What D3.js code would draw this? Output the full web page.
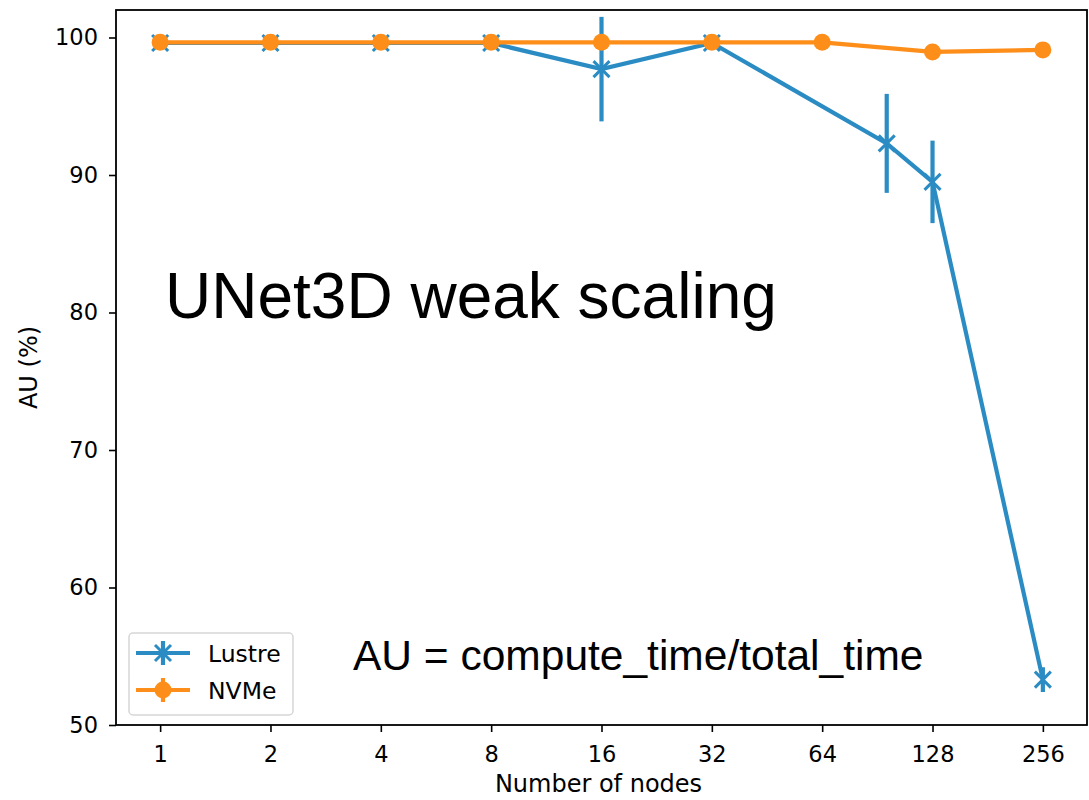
<!DOCTYPE html>
<html>
<head>
<meta charset="utf-8">
<script src="https://cdn.jsdelivr.net/npm/d3@7"></script>
<style>
  body { margin: 0; background: #fff; }
  .tick text { font-family: "DejaVu Sans", sans-serif; font-size: 22.5px; fill: #000; }
  .axis-title { font-family: "DejaVu Sans", sans-serif; font-size: 24px; }
  .note { font-family: "Liberation Sans", Arial, sans-serif; fill: #000; }
</style>
</head>
<body>
<script>
// data
var nodeTicks = [1, 2, 4, 8, 16, 32, 64, 128, 256];
var yTicks = [50, 60, 70, 80, 90, 100];

var lustreNodes = [1, 2, 4, 8, 16, 32, 96, 128, 256];
var lustreAU    = [99.6, 99.6, 99.6, 99.6, 97.7, 99.6, 92.3, 89.5, 53.3];
var lustreErr   = [0.1, 0.1, 0.1, 0.1, 3.8, 0.1, 3.6, 3.0, 0.9];

var nvmeNodes = [1, 2, 4, 8, 16, 32, 64, 128, 256];
var nvmeAU    = [99.65, 99.65, 99.65, 99.65, 99.65, 99.65, 99.65, 98.95, 99.1];
var nvmeErr   = [0.05, 0.05, 0.05, 0.05, 0.05, 0.05, 0.05, 0.1, 0.1];

var blue = '#2b8cc4', orange = '#fe8e1a';

var width = 1089, height = 800;
var margin = {top: 10, right: 2, bottom: 75, left: 116};
var drawWidth = width - margin.left - margin.right;
var drawHeight = height - margin.top - margin.bottom;

var svg = d3.select('body').append('svg')
    .attr('width', width)
    .attr('height', height);

var g = svg.append('g')
    .attr('transform', 'translate(' + margin.left + ',' + margin.top + ')');

// log2 x axis with matplotlib-like 5% margins
var xScale = d3.scaleLog().base(2)
    .domain([Math.pow(2, -0.4), Math.pow(2, 8.4)])
    .range([0, drawWidth]);
var yScale = d3.scaleLinear()
    .domain([50, 102])
    .range([drawHeight, 0]);

var xAxis = d3.axisBottom(xScale).tickValues(nodeTicks).tickFormat(d3.format('d')).tickSize(7).tickPadding(14);
var yAxis = d3.axisLeft(yScale).tickValues(yTicks).tickSize(7).tickPadding(11);

g.append('g').attr('transform', 'translate(0,' + drawHeight + ')').call(xAxis)
    .call(function(a) { a.select('.domain').remove(); a.selectAll('line').attr('stroke-width', 1.6); });
g.append('g').call(yAxis)
    .call(function(a) { a.select('.domain').remove(); a.selectAll('line').attr('stroke-width', 1.6); });

// frame
g.append('rect')
    .attr('width', drawWidth).attr('height', drawHeight)
    .attr('fill', 'none').attr('stroke', '#000').attr('stroke-width', 1.8);

svg.append('text').attr('class', 'axis-title')
    .attr('x', margin.left + drawWidth / 2 - 3).attr('y', 792)
    .attr('text-anchor', 'middle').text('Number of nodes');
svg.append('text').attr('class', 'axis-title')
    .attr('transform', 'translate(37,' + (margin.top + drawHeight / 2) + ') rotate(-90)')
    .attr('text-anchor', 'middle').text('AU (%)');

var plot = g.append('g');

function drawSeries(nodes, vals, errs, color, marker) {
    var data = nodes.map(function(n, i) { return {x: n, y: vals[i], e: errs[i]}; });
    var line = d3.line()
        .x(function(d) { return xScale(d.x); })
        .y(function(d) { return yScale(d.y); });

    plot.append('path')
        .attr('d', line(data))
        .attr('fill', 'none')
        .attr('stroke', color)
        .attr('stroke-width', 4.2);

    plot.selectAll(null).data(data).enter().append('line')
        .attr('x1', function(d) { return xScale(d.x); })
        .attr('x2', function(d) { return xScale(d.x); })
        .attr('y1', function(d) { return yScale(d.y + d.e); })
        .attr('y2', function(d) { return yScale(d.y - d.e); })
        .attr('stroke', color)
        .attr('stroke-width', 4.2);

    if (marker === 'circle') {
        plot.selectAll(null).data(data).enter().append('circle')
            .attr('cx', function(d) { return xScale(d.x); })
            .attr('cy', function(d) { return yScale(d.y); })
            .attr('r', 8.5)
            .attr('fill', color);
    } else {
        plot.selectAll(null).data(data).enter().append('path')
            .attr('transform', function(d) { return 'translate(' + xScale(d.x) + ',' + yScale(d.y) + ')'; })
            .attr('d', 'M-8,-8L8,8M-8,8L8,-8')
            .attr('stroke', color)
            .attr('stroke-width', 3)
            .attr('fill', 'none');
    }
}

drawSeries(lustreNodes, lustreAU, lustreErr, blue, 'x');
drawSeries(nvmeNodes, nvmeAU, nvmeErr, orange, 'circle');

// legend
var legend = svg.append('g').attr('transform', 'translate(129,633)');
legend.append('rect')
    .attr('width', 164).attr('height', 82).attr('rx', 4)
    .attr('fill', '#fff').attr('fill-opacity', 0.8)
    .attr('stroke', '#d6d6d6').attr('stroke-width', 1.5);

var legendItems = [{name: 'Lustre', color: blue, marker: 'x'}, {name: 'NVMe', color: orange, marker: 'circle'}];
legendItems.forEach(function(item, i) {
    var y = 20 + i * 37, cx = 34;
    var it = legend.append('g').attr('transform', 'translate(0,' + y + ')');
    it.append('line').attr('x1', 7).attr('x2', 61).attr('stroke', item.color).attr('stroke-width', 4.2);
    it.append('line').attr('x1', cx).attr('x2', cx).attr('y1', -12).attr('y2', 12)
        .attr('stroke', item.color).attr('stroke-width', 4.2);
    if (item.marker === 'circle') {
        it.append('circle').attr('cx', cx).attr('r', 8.5).attr('fill', item.color);
    } else {
        it.append('path').attr('transform', 'translate(' + cx + ',0)')
            .attr('d', 'M-8,-8L8,8M-8,8L8,-8').attr('stroke', item.color).attr('stroke-width', 3);
    }
    it.append('text').attr('x', 79).attr('y', 9)
        .attr('font-family', '"DejaVu Sans", sans-serif').attr('font-size', 23.5)
        .text(item.name);
});

// annotations
svg.append('text').attr('class', 'note')
    .attr('x', 165).attr('y', 318).attr('font-size', 64)
    .text('UNet3D weak scaling');
svg.append('text').attr('class', 'note')
    .attr('x', 353).attr('y', 670).attr('font-size', 42.5)
    .text('AU = compute_time/total_time');
</script>
</body>
</html>
